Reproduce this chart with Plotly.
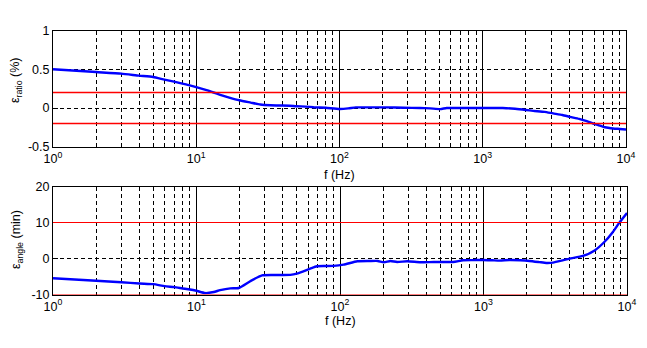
import plotly.graph_objects as go

# ---------------- data ----------------
f_ratio = [1, 2, 3, 4, 5, 6, 7, 8, 9, 10, 11.8, 13.2, 14.7, 17, 20, 24, 28, 33, 38, 45,
           50, 58, 66, 80, 100, 115, 130, 160, 210, 280, 364, 430, 505, 560, 700, 900,
           1100, 1380, 1680, 2000, 2250, 2700, 3100, 3600, 4070, 4700, 5320, 5900, 6400,
           6940, 7500, 8130, 9000, 10000]
ratio_err = [0.50, 0.464, 0.443, 0.417, 0.40, 0.366, 0.34, 0.315, 0.293, 0.27, 0.23, 0.20,
             0.17, 0.135, 0.10, 0.07, 0.045, 0.035, 0.032, 0.03, 0.023, 0.018, 0.01, 0.003,
             -0.012, -0.005, 0.008, 0.008, 0.008, 0.004, 0.0, -0.005, -0.014, 0.0, 0.0, 0.0,
             0.0, 0.0, -0.01, -0.025, -0.037, -0.05, -0.07, -0.09, -0.114, -0.14, -0.17,
             -0.2, -0.22, -0.243, -0.255, -0.264, -0.27, -0.277]

f_angle = [1, 2, 3, 4, 5, 6, 7, 8, 9, 10, 11.5, 13.2, 14.6, 17.2, 19.7, 23.7, 28.6, 35, 45,
           50, 62, 69, 80, 90, 106, 132, 160, 183, 202, 225, 250, 295, 364, 450, 614, 720,
           850, 993, 1150, 1300, 1516, 1800, 2090, 2450, 2740, 3050, 3500, 3980, 4930,
           5950, 6980, 7950, 8900, 10000]
angle_err = [-5.47, -6.2, -6.58, -6.94, -7.13, -7.68, -7.96, -8.32, -8.6, -8.97, -9.6, -9.3,
             -8.8, -8.3, -8.2, -6.3, -4.7, -4.6, -4.55, -4.2, -2.8, -2.15, -2.1, -2.06, -1.7,
             -0.77, -0.7, -0.68, -1.05, -0.68, -0.96, -0.77, -1.05, -0.96, -0.96, -0.5,
             -0.45, -0.4, -0.5, -0.59, -0.41, -0.5, -0.68, -1.0, -1.23, -1.14, -0.6, -0.04,
             0.7, 2.25, 4.65, 7.3, 10.1, 12.65]

ratio_limits = [0.2, -0.2]
angle_limits = [10, -10]

x_tickvals = [1, 10, 100, 1000, 10000]
x_ticktext = ["10<sup>0</sup>", "10<sup>1</sup>", "10<sup>2</sup>", "10<sup>3</sup>", "10<sup>4</sup>"]
ratio_ticks = [-0.5, 0, 0.5, 1]
ratio_ticktext = ["-0.5", "0", "0.5", "1"]
angle_ticks = [-10, 0, 10, 20]
angle_ticktext = ["-10", "0", "10", "20"]

# ---------------- figure ----------------
W, H = 647, 348
FONT = "Liberation Sans, Arial, sans-serif"

fig = go.Figure()

fig.add_trace(go.Scatter(x=f_ratio, y=ratio_err, mode="lines",
                         line=dict(color="#0000ff", width=2.4, shape="spline", smoothing=0.5),
                         xaxis="x", yaxis="y", showlegend=False))
fig.add_trace(go.Scatter(x=f_angle, y=angle_err, mode="lines",
                         line=dict(color="#0000ff", width=2.4, shape="spline", smoothing=0.5),
                         xaxis="x2", yaxis="y2", showlegend=False))

shapes = []
for lim in ratio_limits:
    shapes.append(dict(type="line", xref="x domain", yref="y", x0=0, x1=1, y0=lim, y1=lim,
                       line=dict(color="#ff0000", width=1.3), layer="above"))
for lim in angle_limits:
    shapes.append(dict(type="line", xref="x2 domain", yref="y2", x0=0, x1=1, y0=lim, y1=lim,
                       line=dict(color="#ff0000", width=1), layer="above"))

tickfont = dict(family=FONT, size=12.5, color="black")

def xaxis_cfg(domain, anchor):
    return dict(
        type="log", range=[0, 4], domain=domain, anchor=anchor, automargin=False,
        tickvals=x_tickvals, ticktext=x_ticktext, tickfont=tickfont,
        showgrid=True, gridcolor="black", gridwidth=1,
        minor=dict(showgrid=True, gridcolor="black", gridwidth=1, griddash="4px,3px",
                   dtick="D1", ticks="inside", ticklen=3, tickcolor="black"),
        ticks="inside", ticklen=5, tickcolor="black",
        showline=True, linecolor="black", linewidth=1, mirror="ticks",
        zeroline=False, layer="below traces",
    )

def yaxis_cfg(domain, anchor, rng, tv, tt):
    return dict(
        range=rng, domain=domain, anchor=anchor, automargin=False,
        tickvals=tv, ticktext=tt, tickfont=tickfont,
        showgrid=True, gridcolor="black", gridwidth=1, griddash="4px,3px",
        ticks="inside", ticklen=5, tickcolor="black",
        showline=True, linecolor="black", linewidth=1, mirror="ticks",
        zeroline=False, layer="below traces",
    )

# pixel boundaries of the two plot areas
top_t, top_b = 30.5, 30.5 + 116.25
bot_t, bot_b = 186.5, 186.5 + 108

fig.update_layout(
    width=W, height=H, autosize=False,
    margin=dict(l=0, r=0, t=0, b=0, pad=0, autoexpand=False),
    paper_bgcolor="white", plot_bgcolor="white",
    font=dict(family=FONT, size=12.5, color="black"),
    xaxis=xaxis_cfg([53 / W, 626 / W], "y"),
    yaxis=yaxis_cfg([1 - top_b / H, 1 - top_t / H], "x", [-0.5, 1], ratio_ticks, ratio_ticktext),
    xaxis2=xaxis_cfg([53 / W, 627 / W], "y2"),
    yaxis2=yaxis_cfg([1 - bot_b / H, 1 - bot_t / H], "x2", [-10, 20], angle_ticks, angle_ticktext),
    shapes=shapes,
    annotations=[
        dict(text="f (Hz)", x=(53 + 626) / 2 / W, y=1 - 175 / H, xref="paper", yref="paper",
             xanchor="center", yanchor="middle", showarrow=False,
             font=dict(family=FONT, size=12.5, color="black")),
        dict(text="f (Hz)", x=(53 + 627) / 2 / W, y=1 - 321 / H, xref="paper", yref="paper",
             xanchor="center", yanchor="middle", showarrow=False,
             font=dict(family=FONT, size=12.5, color="black")),
        dict(text="ε<sub>ratio</sub> (%)", x=16 / W, y=1 - 80 / H, xref="paper", yref="paper",
             xanchor="center", yanchor="middle", textangle=-90, showarrow=False,
             font=dict(family=FONT, size=12.5, color="black")),
        dict(text="ε<sub>angle</sub> (min)", x=17 / W, y=1 - 240 / H, xref="paper", yref="paper",
             xanchor="center", yanchor="middle", textangle=-90, showarrow=False,
             font=dict(family=FONT, size=12.5, color="black")),
    ],
)

fig.write_html("out.html", config={"displayModeBar": False},
               post_script="document.body.style.margin='0px';")
